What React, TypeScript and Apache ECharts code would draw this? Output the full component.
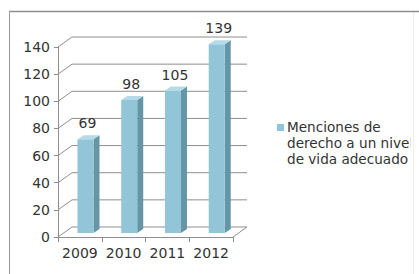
import React, { useEffect, useRef } from "react";
import * as echarts from "echarts";

const categories = ["2009", "2010", "2011", "2012"];
const values = [69, 98, 105, 139];
const yTicks = [0, 20, 40, 60, 80, 100, 120, 140];
const seriesName = "Menciones de derecho a un nivel de vida adecuado";
const legendLines = ["Menciones de", "derecho a un nivel", "de vida adecuado"];

const DEPTH_X = 14;
const DEPTH_Y = -10;
const BAR_SHIFT_X = 5.6;
const BAR_SHIFT_Y = -4;
const BAR_W = 16;
const BAR_DX = 6;
const BAR_DY = -4;
const FONT = "DejaVu Sans";
const GRID_COLOR = "#8e8e8e";
const TEXT_COLOR = "#333333";

export default function App() {
  const ref = useRef<HTMLDivElement>(null);
  useEffect(() => {
    if (!ref.current) return;
    const chart = echarts.init(ref.current, undefined, { renderer: "svg" });
    chart.setOption({
      animation: false,
      backgroundColor: "#ffffff",
      textStyle: { fontFamily: FONT },
      grid: { left: 58, top: 47, right: 186, bottom: 37, containLabel: false },
      xAxis: {
        type: "category",
        data: categories,
        boundaryGap: true,
        axisLine: { show: true, lineStyle: { color: GRID_COLOR, width: 1 } },
        axisTick: { show: true, alignWithLabel: false, interval: 0, length: 5, lineStyle: { color: GRID_COLOR } },
        axisLabel: { color: TEXT_COLOR, fontSize: 14, fontFamily: FONT, margin: 9, interval: 0 },
        splitLine: { show: false },
      },
      yAxis: {
        type: "value",
        min: 0,
        max: 140,
        interval: 20,
        axisLine: { show: true, lineStyle: { color: GRID_COLOR, width: 1 } },
        axisTick: { show: true, length: 4, lineStyle: { color: GRID_COLOR } },
        axisLabel: { color: TEXT_COLOR, fontSize: 14, fontFamily: FONT, margin: 8 },
        splitLine: { show: false },
      },
      series: [
        {
          type: "custom",
          name: "grid",
          silent: true,
          clip: false,
          z: 1,
          data: yTicks.map((v) => [0, v]),
          renderItem: (params: any, api: any) => {
            const v = api.value(1);
            const half = api.size([1, 0])[0] / 2;
            const p0 = api.coord([0, v]);
            const p3 = api.coord([categories.length - 1, v]);
            const x0 = p0[0] - half;
            const xEnd = p3[0] + half;
            const y = p0[1];
            const children: any[] = [
              {
                type: "polyline",
                shape: {
                  points: [
                    [x0, y],
                    [x0 + DEPTH_X, y + DEPTH_Y],
                    [xEnd + DEPTH_X, y + DEPTH_Y],
                  ],
                },
                style: { stroke: GRID_COLOR, lineWidth: 1, fill: "none" },
              },
            ];
            if (v === 0) {
              children.push({
                type: "line",
                shape: { x1: xEnd, y1: y, x2: xEnd + DEPTH_X, y2: y + DEPTH_Y },
                style: { stroke: GRID_COLOR, lineWidth: 1 },
              });
            }
            return { type: "group", children };
          },
        },
        {
          type: "custom",
          name: seriesName,
          clip: false,
          z: 3,
          data: values.map((v, i) => [i, v]),
          renderItem: (params: any, api: any) => {
            const idx = api.value(0);
            const v = api.value(1);
            const base = api.coord([idx, 0]);
            const top = api.coord([idx, v]);
            const cx = base[0] + BAR_SHIFT_X;
            const L = cx - BAR_W / 2;
            const R = cx + BAR_W / 2;
            const B = base[1] + BAR_SHIFT_Y;
            const T = top[1] + BAR_SHIFT_Y;
            return {
              type: "group",
              children: [
                {
                  type: "polygon",
                  shape: { points: [[R, T], [R + BAR_DX, T + BAR_DY], [R + BAR_DX, B + BAR_DY], [R, B]] },
                  style: { fill: "#6496a7" },
                },
                {
                  type: "rect",
                  shape: { x: L, y: T, width: BAR_W, height: B - T },
                  style: { fill: "#93c5d9" },
                },
                {
                  type: "polygon",
                  shape: { points: [[L, T], [L + BAR_DX, T + BAR_DY], [R + BAR_DX, T + BAR_DY], [R, T]] },
                  style: { fill: "#b5dbe8" },
                },
                {
                  type: "text",
                  style: {
                    text: String(v),
                    x: cx + 2,
                    y: T + BAR_DY - 12,
                    align: "center",
                    verticalAlign: "middle",
                    fontSize: 14,
                    fontFamily: FONT,
                    fill: TEXT_COLOR,
                  },
                },
              ],
            };
          },
        },
      ],
      graphic: [
        {
          type: "rect",
          z: 10,
          shape: { x: 277, y: 124, width: 7, height: 7 },
          style: { fill: "#93c5d9" },
        },
        ...legendLines.map((t, i) => ({
          type: "text",
          z: 10,
          style: {
            text: t,
            x: 287,
            y: 127 + i * 16,
            verticalAlign: "middle",
            align: "left",
            fontSize: 13.6,
            fontFamily: FONT,
            fill: TEXT_COLOR,
          },
        })),
        {
          type: "rect",
          z: 20,
          shape: { x: 410.5, y: 135, width: 9, height: 15 },
          style: { fill: "#ffffff" },
        },
        {
          type: "rect",
          z: 20,
          shape: { x: 414, y: 12, width: 5, height: 262 },
          style: { fill: "#ffffff" },
        },
        {
          type: "line",
          z: 21,
          shape: { x1: 413.5, y1: 12, x2: 413.5, y2: 274 },
          style: { stroke: "#eeeeee", lineWidth: 1 },
        },
        {
          type: "line",
          z: 21,
          shape: { x1: 9, y1: 11.5, x2: 419, y2: 11.5 },
          style: { stroke: "#8f8f8f", lineWidth: 1.5 },
        },
        {
          type: "line",
          z: 21,
          shape: { x1: 9.5, y1: 11, x2: 9.5, y2: 274 },
          style: { stroke: "#9a9a9a", lineWidth: 1 },
        },
      ],
    });
    return () => chart.dispose();
  }, []);
  return (
    <div
      ref={ref}
      style={{ position: "fixed", left: 0, top: 0, width: 419, height: 274 }}
    />
  );
}
